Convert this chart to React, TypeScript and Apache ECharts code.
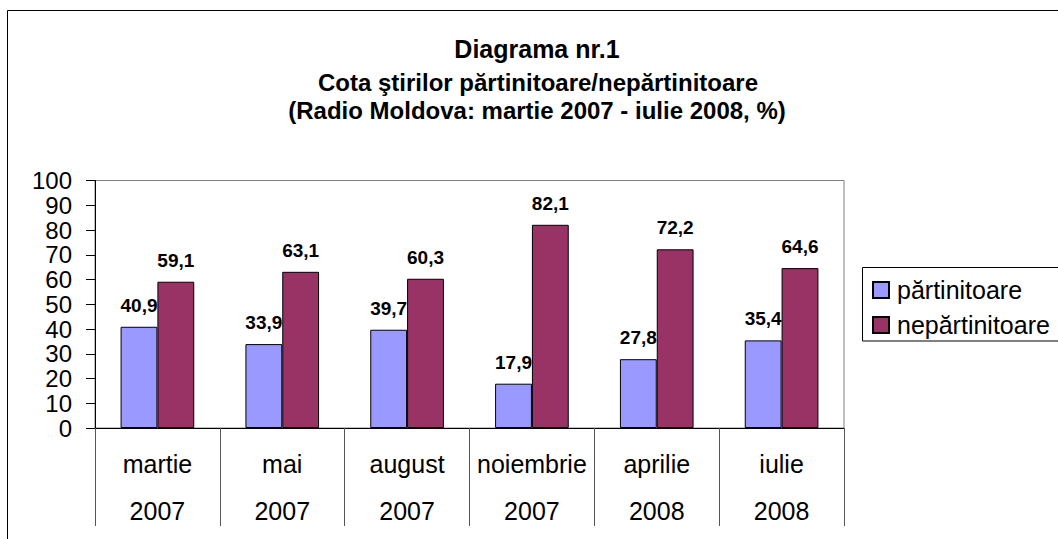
import React, { useEffect, useRef } from "react";
import * as echarts from "echarts";

const months = ["martie", "mai", "august", "noiembrie", "aprilie", "iulie"];
const years = ["2007", "2007", "2007", "2007", "2008", "2008"];
const partinitoare = [40.9, 33.9, 39.7, 17.9, 27.8, 35.4];
const nepartinitoare = [59.1, 63.1, 60.3, 82.1, 72.2, 64.6];
const seriesNames = ["părtinitoare", "nepărtinitoare"];
const titleLines = [
  "Diagrama nr.1",
  "Cota ştirilor părtinitoare/nepărtinitoare",
  "(Radio Moldova: martie 2007 - iulie 2008, %)",
];

const FONT = "'Liberation Sans', Arial, sans-serif";

export default function App() {
  const ref = useRef<HTMLDivElement>(null);

  useEffect(() => {
    if (!ref.current) return;
    const chart = echarts.init(ref.current, undefined, { renderer: "svg" });
    const fmt = (p: any) => String(p.value).replace(".", ",");
    const labelCfg = {
      show: true,
      position: "top",
      distance: 12,
      formatter: fmt,
      fontFamily: FONT,
      fontSize: 19,
      fontWeight: "bold",
      color: "#000",
    };
    chart.setOption({
      animation: false,
      backgroundColor: "#fff",
      textStyle: { fontFamily: FONT },
      graphic: [
        {
          type: "rect",
          z: -10,
          silent: true,
          shape: { x: 7.5, y: 10.5, width: 1100, height: 600 },
          style: { fill: "#fff", stroke: "#000", lineWidth: 1 },
        },
        {
          type: "rect",
          z: 0,
          silent: true,
          shape: { x: 862.5, y: 267.5, width: 300, height: 73.5 },
          style: { fill: "#fff", stroke: "#000", lineWidth: 1 },
        },
        {
          type: "text",
          x: 537,
          y: 49,
          style: {
            text: titleLines[0],
            fontFamily: FONT,
            fontSize: 25,
            fontWeight: "bold",
            fill: "#000",
            textAlign: "center",
            textVerticalAlign: "middle",
          },
        },
        {
          type: "text",
          x: 538,
          y: 82,
          style: {
            text: titleLines[1],
            fontFamily: FONT,
            fontSize: 24,
            fontWeight: "bold",
            fill: "#000",
            textAlign: "center",
            textVerticalAlign: "middle",
          },
        },
        {
          type: "text",
          x: 537,
          y: 110,
          style: {
            text: titleLines[2],
            fontFamily: FONT,
            fontSize: 24,
            fontWeight: "bold",
            fill: "#000",
            textAlign: "center",
            textVerticalAlign: "middle",
          },
        },
      ],
      legend: {
        orient: "vertical",
        left: 872,
        top: 277.5,
        padding: 0,
        itemGap: 10,
        itemWidth: 16,
        itemHeight: 16,
        icon: "rect",
        z: 5,
        textStyle: {
          fontFamily: FONT,
          fontSize: 25,
          color: "#000",
          padding: [0, 0, 0, 3],
        },
        data: seriesNames,
      },
      grid: {
        left: 95,
        top: 180.5,
        width: 749,
        height: 247.5,
        show: true,
        borderColor: "#808080",
        borderWidth: 1,
        backgroundColor: "transparent",
      },
      xAxis: {
        type: "category",
        data: months,
        axisLine: { show: true, lineStyle: { color: "#000", width: 1 } },
        axisTick: {
          show: true,
          interval: 0,
          alignWithLabel: false,
          length: 98,
          lineStyle: { color: "#555", width: 1 },
        },
        axisLabel: {
          interval: 0,
          margin: 12,
          fontFamily: FONT,
          fontSize: 25,
          color: "#000",
          lineHeight: 47,
          formatter: (v: string, i: number) => `${v}\n${years[i]}`,
        },
        splitLine: { show: false },
      },
      yAxis: {
        type: "value",
        min: 0,
        max: 100,
        interval: 10,
        axisLine: { show: true, lineStyle: { color: "#000", width: 1 } },
        axisTick: { show: true, length: 9, lineStyle: { color: "#000" } },
        axisLabel: {
          margin: 23,
          fontFamily: FONT,
          fontSize: 24,
          color: "#000",
        },
        splitLine: { show: false },
      },
      series: [
        {
          name: seriesNames[0],
          type: "bar",
          data: partinitoare,
          barGap: "0%",
          barCategoryGap: "41%",
          itemStyle: { color: "#9999FF", borderColor: "#000", borderWidth: 1 },
          label: labelCfg,
        },
        {
          name: seriesNames[1],
          type: "bar",
          data: nepartinitoare,
          barGap: "0%",
          barCategoryGap: "41%",
          itemStyle: { color: "#993366", borderColor: "#000", borderWidth: 1 },
          label: labelCfg,
        },
      ],
    });
    return () => chart.dispose();
  }, []);

  return (
    <div
      ref={ref}
      style={{ position: "absolute", left: 0, top: 0, width: 1058, height: 539 }}
    />
  );
}
